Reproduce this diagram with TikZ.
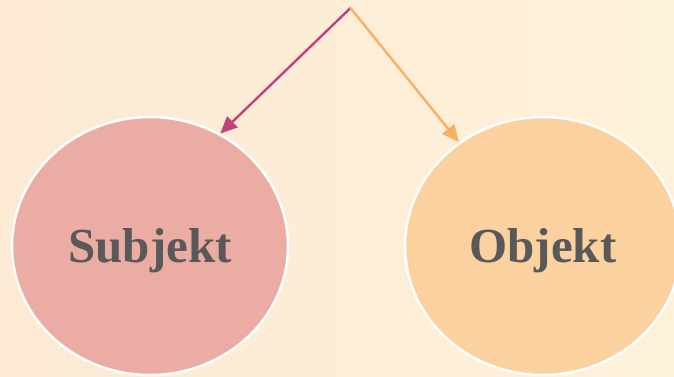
\documentclass[tikz,border=0pt]{standalone}
\usepackage{fontspec}
\setmainfont{Liberation Serif}
\usetikzlibrary{shapes.geometric,arrows.meta}
\definecolor{bgL}{HTML}{FCEAD3}
\definecolor{bgR}{HTML}{FEF1DA}
\definecolor{pinkfill}{HTML}{EBADA3}
\definecolor{orangefill}{HTML}{FBD1A0}
\definecolor{magarrow}{HTML}{C2437A}
\definecolor{orarrow}{HTML}{FBAF63}
\definecolor{txtgray}{HTML}{595959}
\tikzset{
  bubble/.style={ellipse, draw=white, line width=2.5pt, minimum width=276pt, minimum height=258pt, inner sep=0pt,
    text height=32pt, text depth=0pt,
    font=\fontsize{49}{52}\selectfont\bfseries, text=txtgray},
  link/.style={line width=2.4pt, -{Triangle[length=17pt,width=15pt]}}
}
\begin{document}
\begin{tikzpicture}[x=1pt,y=-1pt]
\shade[left color=bgL, right color=bgR] (0,0) rectangle (674,377);
\useasboundingbox (0,0) rectangle (674,377);
\coordinate (top) at (350.5,8);
\node[bubble, fill=pinkfill] (subj) at (150,246) {Subjekt};
\node[bubble, fill=orangefill] (obj) at (543,246) {Objekt};
\draw[link, magarrow] (top) -- (subj.58);
\draw[link, orarrow] (top) -- (obj.129);
\end{tikzpicture}
\end{document}
